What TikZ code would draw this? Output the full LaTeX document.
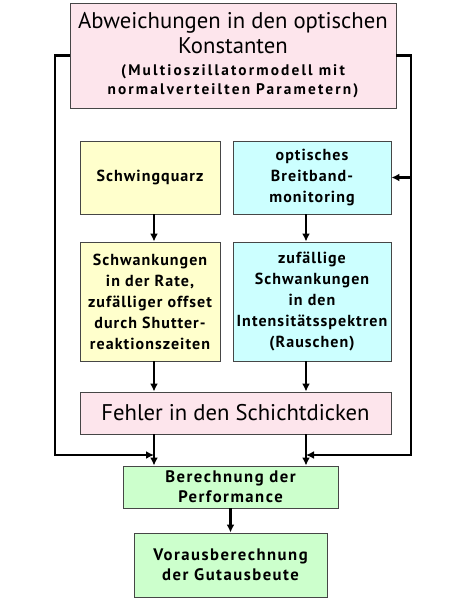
\documentclass[tikz,border=0pt]{standalone}
\usepackage{fontspec}
\setmainfont{PT Sans}
\newfontfamily\spacedfont[LetterSpace=6.5]{PT Sans}
\newfontfamily\widefont[LetterSpace=14]{PT Sans}
\newfontfamily\greenfont[LetterSpace=9]{PT Sans}
\usepackage{tikz}
\usetikzlibrary{arrows.meta,positioning,calc}
\definecolor{fsedge}{RGB}{70,70,70}
\definecolor{fspink}{RGB}{253,229,236}
\definecolor{fsyel}{RGB}{255,255,204}
\definecolor{fscyan}{RGB}{204,255,255}
\definecolor{fsgreen}{RGB}{204,255,204}
\tikzset{
  fsbox/.style={
    draw=fsedge, line width=0.7pt, align=center, inner sep=2pt,
    font=\spacedfont\bfseries\fontsize{12}{16}\selectfont
  },
  src/.style={fsbox, fill=fspink},
  quarzbox/.style={fsbox, fill=fsyel},
  optbox/.style={fsbox, fill=fscyan},
  outbox/.style={fsbox, fill=fsgreen, font=\greenfont\bfseries\fontsize{12.5}{15}\selectfont},
  arr/.style={-{Latex[length=6pt,width=6pt]}, draw=black, line width=1.9pt}
}
\begin{document}
\begin{tikzpicture}[x=0.75pt,y=-0.75pt]
  \useasboundingbox (0,0) rectangle (449,600);
  \node[src, minimum width=326*0.75pt, minimum height=105*0.75pt,
        font=\fontsize{17}{18.5}\selectfont] (abw) at (233,55.5)
    {Abweichungen in den optischen\\Konstanten\\[-2pt]
     \widefont\bfseries\fontsize{11.5}{14}\selectfont (Multioszillatormodell mit\\[-4pt]
     \widefont\bfseries\fontsize{11.5}{14}\selectfont normalverteilten Parametern)};
  \node[quarzbox, minimum width=140*0.75pt, minimum height=73*0.75pt] (quarz) at (150,177.5) {Schwingquarz};
  \node[optbox, minimum width=158*0.75pt, minimum height=73*0.75pt] (breit) at (312,177.5) {optisches\\Breitband-\\monitoring};
  \node[quarzbox, minimum width=140*0.75pt, minimum height=119*0.75pt,
        font=\spacedfont\bfseries\fontsize{12}{15.75}\selectfont] (schw) at (150,301.5)
    {Schwankungen\\in der Rate,\\zufälliger offset\\durch Shutter-\\reaktionszeiten};
  \node[optbox, minimum width=158*0.75pt, minimum height=119*0.75pt,
        font=\spacedfont\bfseries\fontsize{12}{15.75}\selectfont] (zuf) at (312,301.5)
    {zufällige\\Schwankungen\\in den\\Intensitätsspektren\\(Rauschen)};
  \node[src, minimum width=311*0.75pt, minimum height=42*0.75pt,
        font=\fontsize{17}{18}\selectfont] (fehler) at (235.5,413) {Fehler in den Schichtdicken};
  \node[outbox, minimum width=215*0.75pt, minimum height=42*0.75pt] (berech) at (230.5,487) {Berechnung der\\Performance};
  \node[outbox, minimum width=193*0.75pt, minimum height=64*0.75pt] (voraus) at (230.5,565) {Vorausberechnung\\der Gutausbeute};

  \coordinate (lx) at (154,0);
  \coordinate (rx) at (306,0);
  \coordinate (lbend) at (55,455);
  \coordinate (rbend) at (411,455);

  \draw[arr] (quarz.south -| lx) -- (schw.north -| lx);
  \draw[arr] (breit.south -| rx) -- (zuf.north -| rx);
  \draw[arr] (schw.south -| lx) -- (fehler.north -| lx);
  \draw[arr] (zuf.south -| rx) -- (fehler.north -| rx);
  \draw[arr] (fehler.south -| lx) -- (berech.north -| lx);
  \draw[arr] (fehler.south -| rx) -- (berech.north -| rx);
  \draw[arr] (berech.south) -- (voraus.north);
  % Rueckfuehrung der optischen Konstanten
  \draw[arr] (abw.west) -| (lbend) -- (lbend -| lx);
  \draw[arr] (abw.east) -| (rbend) -- (rbend -| rx);
  \draw[arr] (breit.east -| rbend) -- (breit.east);
\end{tikzpicture}
\end{document}
